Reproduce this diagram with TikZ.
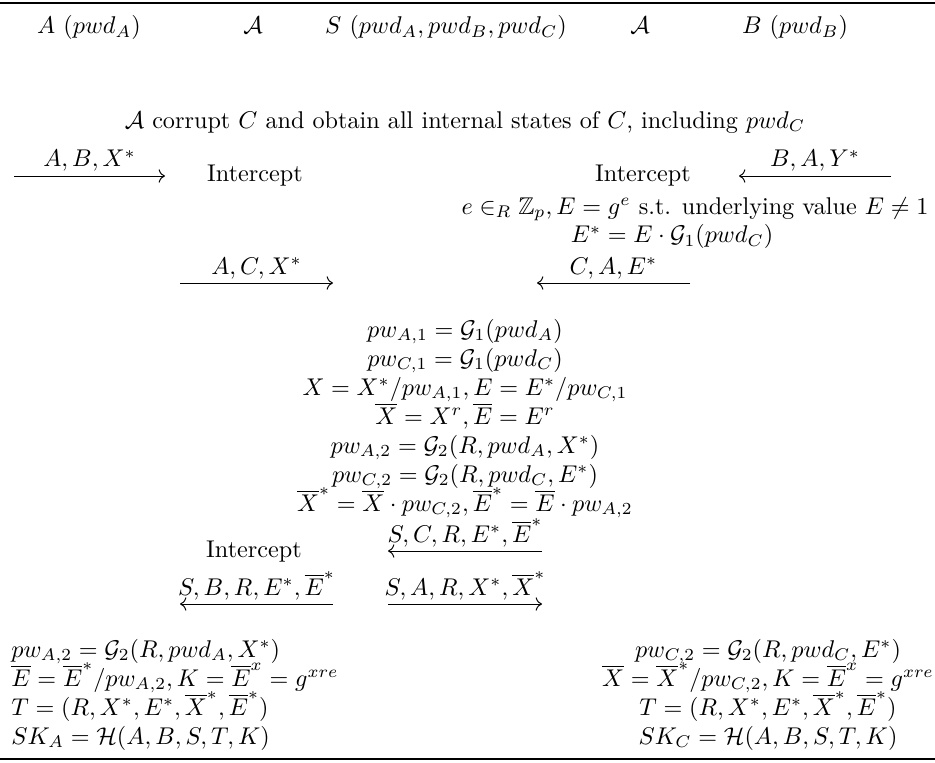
\documentclass[tikz,border=0pt]{standalone}
\usepackage{amsmath,amssymb}
\usetikzlibrary{arrows.meta}
\begin{document}
\begin{tikzpicture}[x=0.41322pt,y=-0.41322pt,
  txt/.style={inner sep=0pt,anchor=base},
  txtl/.style={inner sep=0pt,anchor=base west},
  txtr/.style={inner sep=0pt,anchor=base east},
  msg/.style={line width=0.4pt,-{To[length=2.6pt,width=5.5pt]}},
  tabrule/.style={line width=1.2pt}]
\useasboundingbox (0,0) rectangle (935,763);
% rules
\coordinate (tl) at (0,3); \coordinate (tr) at (935,3);
\coordinate (bl) at (0,759); \coordinate (br) at (935,759);
\draw[tabrule] (tl) -- (tr);
\draw[tabrule] (bl) -- (br);
% header
\node[txt] (hA) at (89,34) {$A~(pwd_A)$};
\node[txt] (hAdv1) at (253,34) {$\mathcal{A}$};
\node[txt] (hS) at (446,34) {$S~(pwd_A, pwd_B, pwd_C)$};
\node[txt] (hAdv2) at (640,34) {$\mathcal{A}$};
\node[txt] (hB) at (795,34) {$B~(pwd_B)$};
% corrupt
\node[txt] (corr) at (465,128) {$\mathcal{A}$ corrupt $C$ and obtain all internal states of $C$, including $pwd_C$};
% row 1
\coordinate (m1s) at (14,176); \coordinate (m1e) at (165,176);
\draw[msg] (m1s) -- (m1e);
\node[txt] (m1l) at (89.5,167) {$A, B, X^*$};
\node[txt] (int1) at (255,181) {Intercept};
\node[txt] (int2) at (643,181) {Intercept};
\coordinate (m2s) at (891,176); \coordinate (m2e) at (739,176);
\draw[msg] (m2s) -- (m2e);
\node[txt] (m2l) at (815,167) {$B, A, Y^*$};
% adversary computations
\node[txtr] (echo) at (929,214) {$e \in_R \mathbb{Z}_p, E = g^e$ s.t. underlying value $E \neq 1$};
\node[txt] (estar) at (672,243) {$E^* = E \cdot \mathcal{G}_1(pwd_C)$};
% row 2
\coordinate (m3s) at (180,283); \coordinate (m3e) at (333,283);
\draw[msg] (m3s) -- (m3e);
\node[txt] (m3l) at (256.5,274) {$A, C, X^*$};
\coordinate (m4s) at (690,283); \coordinate (m4e) at (537,283);
\draw[msg] (m4s) -- (m4e);
\node[txt] (m4l) at (613.5,274) {$C, A, E^*$};
% server computations
\node[txt] (s1) at (465,337) {$pw_{A,1} = \mathcal{G}_1(pwd_A)$};
\node[txt] (s2) at (465,366) {$pw_{C,1} = \mathcal{G}_1(pwd_C)$};
\node[txt] (s3) at (465,395) {$X = X^*/pw_{A,1}, E = E^*/pw_{C,1}$};
\node[txt] (s4) at (465,424) {$\overline{X} = X^r, \overline{E} = E^r$};
\node[txt] (s5) at (465,453) {$pw_{A,2} = \mathcal{G}_2(R, pwd_A, X^*)$};
\node[txt] (s6) at (465,482) {$pw_{C,2} = \mathcal{G}_2(R, pwd_C, E^*)$};
\node[txt] (s7) at (465,511) {$\overline{X}^* = \overline{X} \cdot pw_{C,2}, \overline{E}^* = \overline{E} \cdot pw_{A,2}$};
% row 3
\coordinate (m5s) at (542,551); \coordinate (m5e) at (388,551);
\draw[msg] (m5s) -- (m5e);
\node[txt] (m5l) at (465,542) {$S, C, R, E^*, \overline{E}^*$};
\node[txt] (int3) at (254,557) {Intercept};
% row 4
\coordinate (m6s) at (333,604); \coordinate (m6e) at (180,604);
\draw[msg] (m6s) -- (m6e);
\node[txt] (m6l) at (256.5,595) {$S, B, R, E^*, \overline{E}^*$};
\coordinate (m7s) at (388,604); \coordinate (m7e) at (542,604);
\draw[msg] (m7s) -- (m7e);
\node[txt] (m7l) at (465,595) {$S, A, R, X^*, \overline{X}^*$};
% A's computations
\node[txtl] (a1) at (11,657) {$pw_{A,2} = \mathcal{G}_2(R, pwd_A, X^*)$};
\node[txtl] (a2) at (11,686) {$\overline{E} = \overline{E}^*/pw_{A,2}, K = \overline{E}^x = g^{xre}$};
\node[txtl] (a3) at (11,715) {$T = (R, X^*, E^*, \overline{X}^*, \overline{E}^*)$};
\node[txtl] (a4) at (11,744) {$SK_A = \mathcal{H}(A, B, S, T, K)$};
% C's computations
\node[txt] (c1) at (768,657) {$pw_{C,2} = \mathcal{G}_2(R, pwd_C, E^*)$};
\node[txt] (c2) at (768,686) {$\overline{X} = \overline{X}^*/pw_{C,2}, K = \overline{E}^x = g^{xre}$};
\node[txt] (c3) at (768,715) {$T = (R, X^*, E^*, \overline{X}^*, \overline{E}^*)$};
\node[txt] (c4) at (768,744) {$SK_C = \mathcal{H}(A, B, S, T, K)$};
\end{tikzpicture}
\end{document}
